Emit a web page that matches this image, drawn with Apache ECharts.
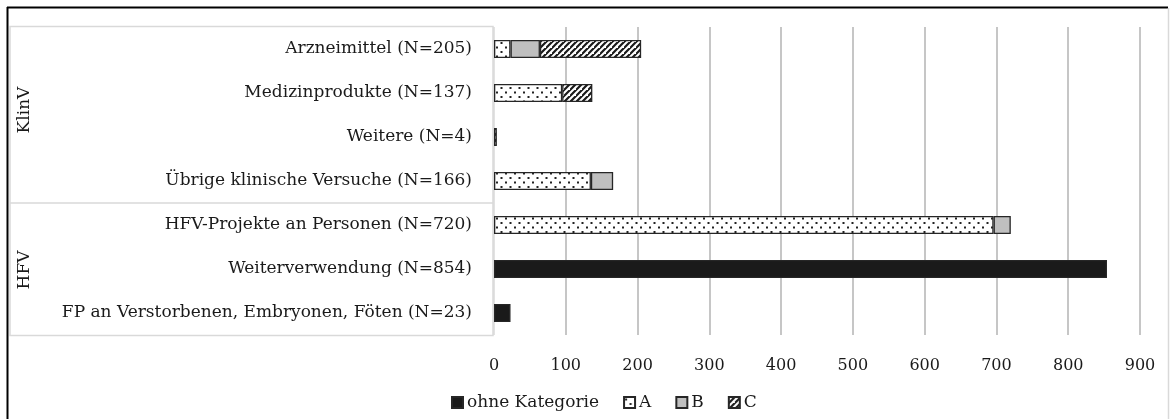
<!DOCTYPE html>
<html>
<head>
<meta charset="utf-8">
<script src="https://cdn.jsdelivr.net/npm/echarts@6/dist/echarts.min.js"></script>
<style>html,body{margin:0;padding:0;background:#fff;}#c{width:1170px;height:419px;}</style>
</head>
<body>
<div id="c"></div>
<script>
const categories = ['Arzneimittel (N=205)', 'Medizinprodukte (N=137)', 'Weitere (N=4)', 'Übrige klinische Versuche (N=166)', 'HFV-Projekte an Personen (N=720)', 'Weiterverwendung (N=854)', 'FP an Verstorbenen, Embryonen, Föten (N=23)'];
const seriesNames = ['ohne Kategorie', 'A', 'B', 'C'];
const ohneKategorie = [0, 0, 0, 0, 0, 854, 23];
const valuesA = [23, 95, 0, 135, 696, 0, 0];
const valuesB = [41, 0, 0, 31, 24, 0, 0];
const valuesC = [141, 42, 4, 0, 0, 0, 0];
const groupLabels = ['KlinV', 'HFV'];
const xTicks = [0, 100, 200, 300, 400, 500, 600, 700, 800, 900];

const FONT = 'DejaVu Serif';

function dotPattern() {
  const c = document.createElement('canvas');
  c.width = 9; c.height = 9;
  const g = c.getContext('2d');
  g.fillStyle = '#ffffff'; g.fillRect(0, 0, 9, 9);
  g.fillStyle = '#222222';
  g.fillRect(1, 1.5, 2, 2);
  g.fillRect(5.5, 6, 2, 2);
  return c;
}
function hatchPattern() {
  const s = 6;
  const c = document.createElement('canvas');
  c.width = s; c.height = s;
  const g = c.getContext('2d');
  g.fillStyle = '#ffffff'; g.fillRect(0, 0, s, s);
  g.strokeStyle = '#1a1a1a'; g.lineWidth = 2.2;
  g.beginPath();
  g.moveTo(-1, s + 1); g.lineTo(s + 1, -1);
  g.moveTo(-1 - s, s + 1); g.lineTo(1, -1);
  g.moveTo(s - 1, 2 * s + 1); g.lineTo(2 * s + 1, s - 1);
  g.stroke();
  return c;
}

const fills = [
  '#1a1a1a',
  { image: dotPattern(), repeat: 'repeat' },
  '#bfbfbf',
  { image: hatchPattern(), repeat: 'repeat' }
];
const dataSets = [ohneKategorie, valuesA, valuesB, valuesC];

const chart = echarts.init(document.getElementById('c'), null, { renderer: 'canvas' });

const series = seriesNames.map((n, i) => ({
  name: n,
  type: 'bar',
  stack: 'total',
  barWidth: 18,
  data: dataSets[i].map(v => (v ? v : null)),
  itemStyle: { color: fills[i], borderColor: '#262626', borderWidth: 1.3 },
  emphasis: { disabled: true },
  animation: false
}));

chart.setOption({
  animation: false,
  textStyle: { fontFamily: FONT },
  grid: { left: 494, right: 30, top: 27, bottom: 84, containLabel: false },
  legend: {
    data: seriesNames,
    left: 446,
    top: 389,
    itemWidth: 11,
    itemHeight: 11,
    itemGap: 24,
    icon: 'rect',
    textStyle: { fontFamily: FONT, fontSize: 17, color: '#1a1a1a', padding: [0, 0, 0, -1] }
  },
  xAxis: {
    type: 'value',
    min: 0,
    max: 900,
    interval: 100,
    axisLine: { show: false },
    axisTick: { show: false },
    axisLabel: { fontFamily: FONT, fontSize: 16, color: '#1a1a1a', margin: 23, formatter: v => (xTicks.indexOf(v) >= 0 ? String(v) : '') },
    splitLine: { show: true, lineStyle: { color: ['#d9d9d9', '#b3b3b3', '#b3b3b3', '#b3b3b3', '#b3b3b3', '#b3b3b3', '#b3b3b3', '#b3b3b3', '#b3b3b3', '#b3b3b3'], width: 1.5 } }
  },
  yAxis: {
    type: 'category',
    data: categories,
    inverse: true,
    axisLine: { show: false },
    axisTick: { show: false },
    axisLabel: { fontFamily: FONT, fontSize: 17, color: '#1a1a1a', margin: 22 }
  },
  series: series,
  graphic: [
    { type: 'line', shape: { x1: 7, y1: 7.5, x2: 1168, y2: 7.5 }, style: { stroke: '#000', lineWidth: 2 }, silent: true },
    { type: 'line', shape: { x1: 7.5, y1: 7, x2: 7.5, y2: 419 }, style: { stroke: '#000', lineWidth: 2 }, silent: true },
    { type: 'line', shape: { x1: 1168.5, y1: 8, x2: 1168.5, y2: 419 }, style: { stroke: '#d9d9d9', lineWidth: 1.5 }, silent: true },
    { type: 'rect', shape: { x: 10, y: 26.5, width: 483, height: 309 }, style: { fill: 'none', stroke: '#d9d9d9', lineWidth: 1.5 }, silent: true },
    { type: 'line', shape: { x1: 10, y1: 203, x2: 493, y2: 203 }, style: { stroke: '#d9d9d9', lineWidth: 1.5 }, silent: true },
    { type: 'text', x: 25, y: 110, rotation: Math.PI / 2, style: { text: groupLabels[0], font: '17px "' + FONT + '"', fill: '#1a1a1a', textAlign: 'center', textVerticalAlign: 'middle' }, silent: true },
    { type: 'text', x: 25, y: 270, rotation: Math.PI / 2, style: { text: groupLabels[1], font: '17px "' + FONT + '"', fill: '#1a1a1a', textAlign: 'center', textVerticalAlign: 'middle' }, silent: true }
  ]
});
</script>
</body>
</html>
